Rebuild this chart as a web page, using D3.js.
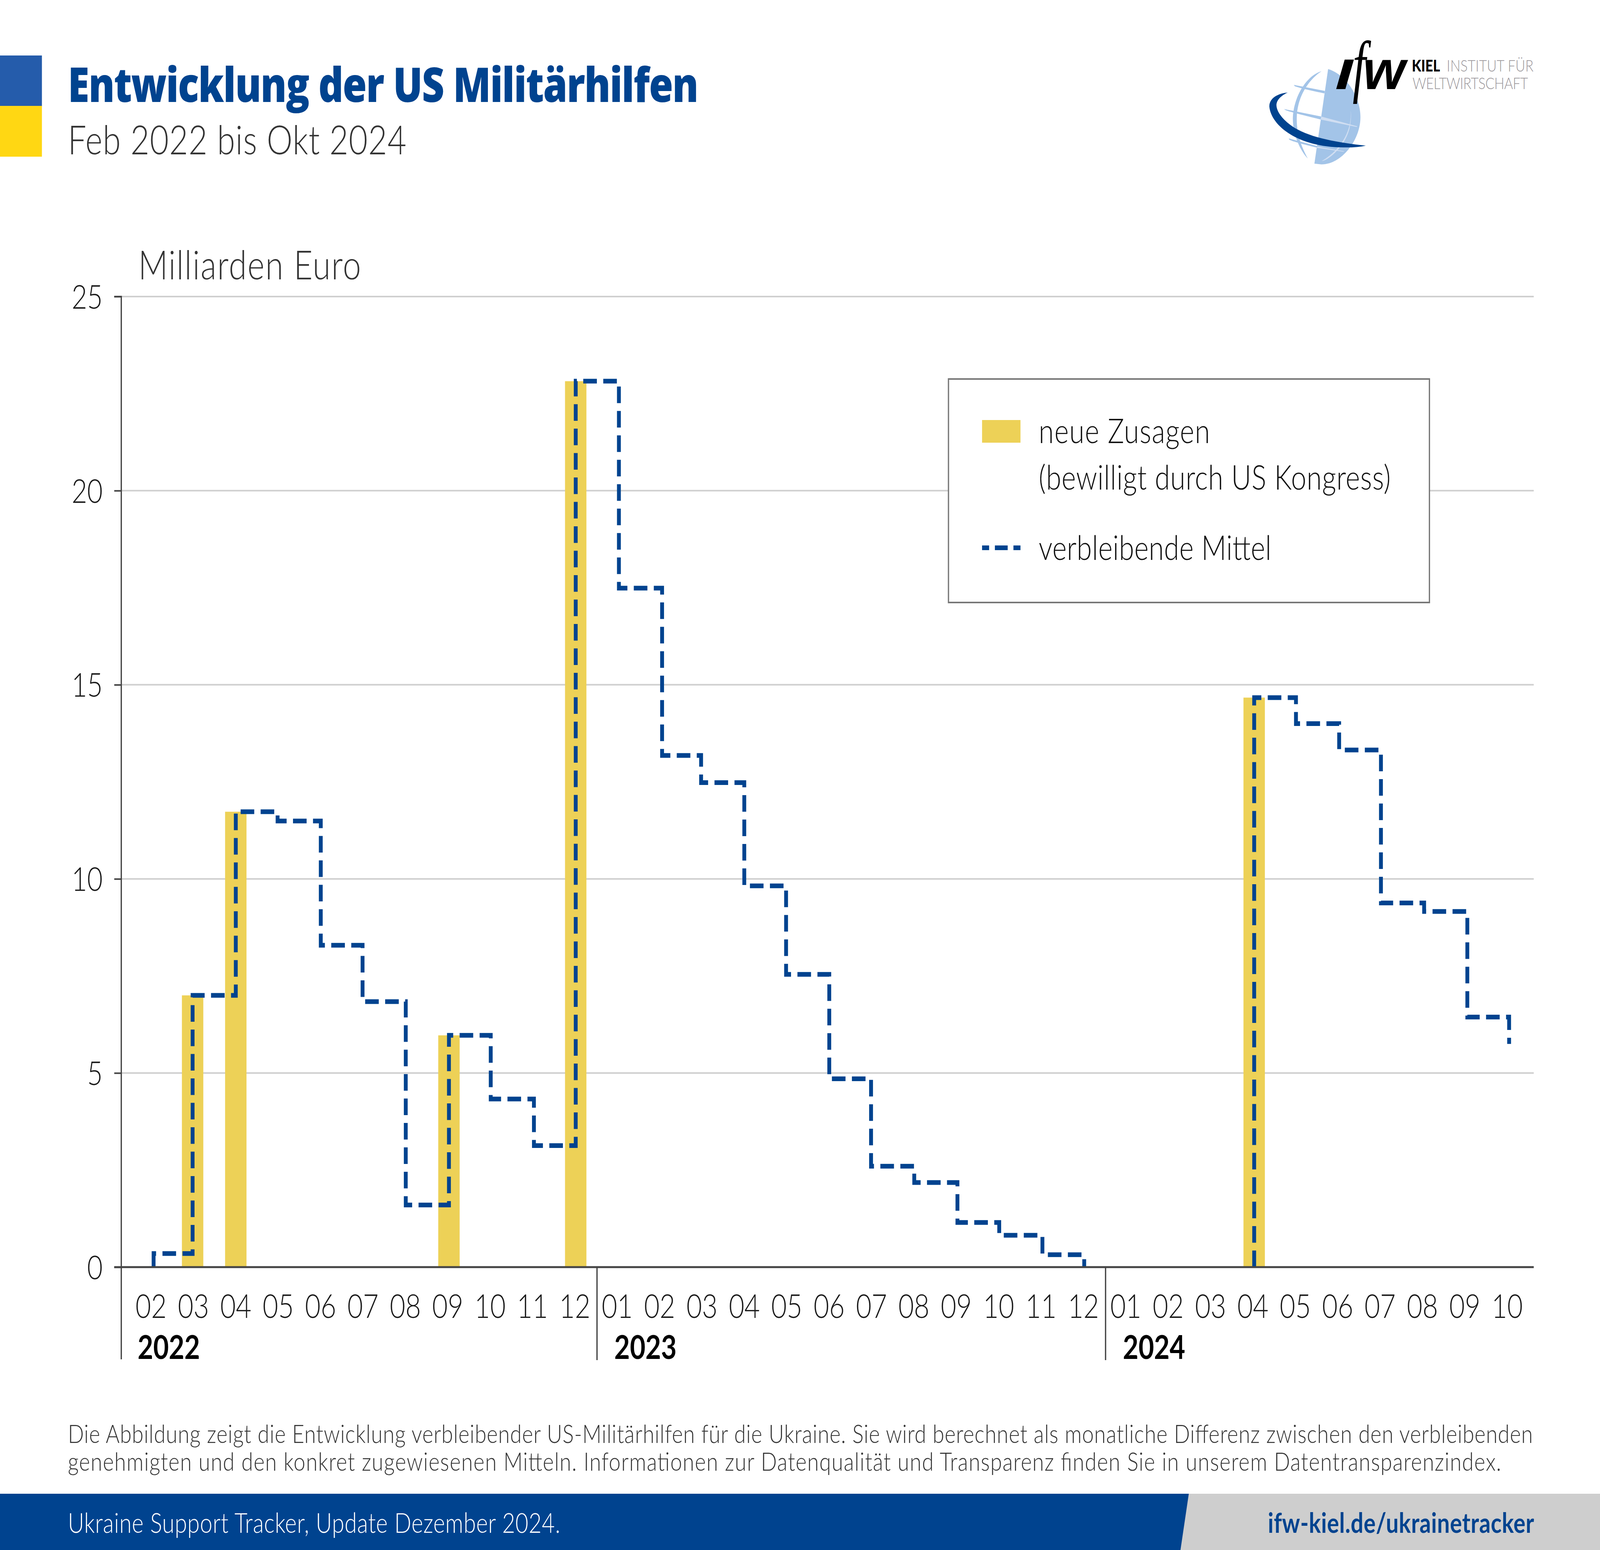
<!DOCTYPE html>
<html>
<head>
<meta charset="utf-8">
<script src="https://cdn.jsdelivr.net/npm/d3@7"></script>
<style>
    html, body { margin: 0; padding: 0; width: 100%; height: 100%; background: #fff; overflow: hidden; }
    svg { display: block; width: 100%; height: 100%; }
    text { font-family: Lato, "Open Sans", sans-serif; font-weight: 300; }
    .axis-label { font-size: 84px; fill: #1a1a1a; }
</style>
</head>
<body>
<svg viewBox="0 0 5000 3967" preserveAspectRatio="none"></svg>
<script>
const months = [
    "2022-02", "2022-03", "2022-04", "2022-05", "2022-06", "2022-07", "2022-08", "2022-09", "2022-10", "2022-11", "2022-12",
    "2023-01", "2023-02", "2023-03", "2023-04", "2023-05", "2023-06", "2023-07", "2023-08", "2023-09", "2023-10", "2023-11", "2023-12",
    "2024-01", "2024-02", "2024-03", "2024-04", "2024-05", "2024-06", "2024-07", "2024-08", "2024-09", "2024-10",
]
const commitments = [
    0, 7.0, 11.73, 0, 0, 0, 0, 5.97, 0, 0, 22.82,
    0, 0, 0, 0, 0, 0, 0, 0, 0, 0, 0, 0,
    0, 0, 0, 14.67, 0, 0, 0, 0, 0, 0,
]
// null = no line drawn, the remaining funds sit on the baseline
const remaining = [
    0.35, 7.0, 11.73, 11.49, 8.29, 6.84, 1.6, 5.97, 4.33, 3.13, 22.82,
    17.49, 13.18, 12.48, 9.82, 7.54, 4.85, 2.6, 2.18, 1.15, 0.82, 0.32, 0,
    null, null, null, 14.67, 14.0, 13.32, 9.38, 9.16, 6.44, 5.75,
]
const years = [
    { label: "2022", first: "2022-02" },
    { label: "2023", first: "2023-01" },
    { label: "2024", first: "2024-01" },
]
const y_ticks = [0, 5, 10, 15, 20, 25]
const note_lines = [
    "Die Abbildung zeigt die Entwicklung verbleibender US-Militärhilfen für die Ukraine. Sie wird berechnet als monatliche Differenz zwischen den verbleibenden",
    "genehmigten und den konkret zugewiesenen Mitteln. Informationen zur Datenqualität und Transparenz finden Sie in unserem Datentransparenzindex.",
]
const note_widths = [4578, 4479]

const blue = "#00438f"
const gold = "#edd157"
const dash = "42.5,20"

const svg = d3.select("svg")
const to_date = m => new Date(m + "-01T00:00:00Z")

const x = d3.scaleBand().domain(months).range([405.8, 4776.3]).paddingInner(0.495).paddingOuter(0.2475)
// bars and line are on a real time axis, so short months come out narrower than the labels
const x_time = d3.scaleUtc()
    .domain([to_date(months[0]), to_date(months[months.length - 1])])
    .range([480, 4716])
const y = d3.scaleLinear().domain([0, 25]).range([3243, 759])

const left = 379
const right = 4793

// flag
svg.append("rect").attr("x", 0).attr("y", 142).attr("width", 131).attr("height", 130).attr("fill", "#255cab")
svg.append("rect").attr("x", 0).attr("y", 271).attr("width", 131).attr("height", 130).attr("fill", "#ffd713")

// title
svg.append("text").attr("x", 212).attr("y", 261)
    .attr("textLength", 1971)
    .style("font-family", "'Open Sans'").style("font-size", "122px").style("font-weight", 800).attr("fill", blue)
    .text("Entwicklung der US Militärhilfen")
svg.append("text").attr("x", 212).attr("y", 395)
    .attr("textLength", 1058)
    .style("font-size", "102px").attr("fill", "#333")
    .text("Feb 2022 bis Okt 2024")
svg.append("text").attr("x", 432).attr("y", 715)
    .attr("textLength", 696)
    .style("font-size", "102px").attr("fill", "#333")
    .text("Milliarden Euro")

draw_logo()

// grid
svg.append("g").selectAll("line")
    .data(y_ticks.filter(d => d > 0))
    .enter()
    .append("line")
    .attr("x1", left)
    .attr("x2", right)
    .attr("y1", d => y(d))
    .attr("y2", d => y(d))
    .attr("stroke", "#cfcfcf")
    .attr("stroke-width", 4)

// bars
svg.append("g").selectAll("rect")
    .data(months.map((m, i) => ({ date: to_date(m), value: commitments[i] })).filter(d => d.value > 0))
    .enter()
    .append("rect")
    .attr("x", d => x_time(d.date) - x.bandwidth() / 2)
    .attr("width", x.bandwidth())
    .attr("y", d => y(d.value))
    .attr("height", d => y(0) - y(d.value))
    .attr("fill", gold)

// remaining funds, starts from the baseline on each run
const points = months.map((m, i) => ({ date: to_date(m), value: remaining[i] }))
const run_a = points.slice(0, 23)
const run_b = points.slice(26)
const line = d3.line().x(d => x_time(d.date)).y(d => y(d.value)).curve(d3.curveStepAfter)

svg.append("g").selectAll("path")
    .data([run_a, run_b])
    .enter()
    .append("path")
    .attr("d", d => line([{ date: d[0].date, value: 0 }, ...d]))
    .attr("fill", "none")
    .attr("stroke", blue)
    .attr("stroke-width", 12)
    .attr("stroke-dasharray", dash)

// y axis
const y_axis = svg.append("g")
    .attr("transform", `translate(${left},0)`)
    .call(d3.axisLeft(y).tickValues(y_ticks).tickSize(22).tickPadding(36))
y_axis.selectAll("text").attr("class", "axis-label").attr("fill", null)
    .attr("dy", "0.36em")
y_axis.selectAll("line").attr("stroke", "#444").attr("stroke-width", 4)
y_axis.select(".domain").attr("stroke", "#444").attr("stroke-width", 4)
    .attr("d", `M-22,${y(25)}H0V3479`)

// x axis
const x_axis = svg.append("g")
    .attr("transform", `translate(0,${y(0)})`)
    .call(d3.axisBottom(x).tickFormat(d => d.slice(5)).tickSize(0).tickPadding(70))
x_axis.selectAll("text").attr("class", "axis-label").attr("fill", null)
x_axis.select(".domain").attr("stroke", "#444").attr("stroke-width", 5)
    .attr("d", `M${left - 22},0H${right}`)

// year separators
const year_start = d => x(d.first) - x.step() * x.paddingInner() / 2 + 3
svg.append("g").selectAll("line")
    .data(years.slice(1))
    .enter()
    .append("line")
    .attr("x1", year_start)
    .attr("x2", year_start)
    .attr("y1", y(0))
    .attr("y2", 3481)
    .attr("stroke", "#444")
    .attr("stroke-width", 4)
svg.append("g").selectAll("text")
    .data(years)
    .enter()
    .append("text")
    .attr("x", (d, i) => i === 0 ? 430 : year_start(d) + 54)
    .attr("y", 3478)
    .style("font-size", "84px")
    .style("font-weight", 700)
    .attr("fill", "#000")
    .text(d => d.label)

draw_legend()

// note
svg.append("g").selectAll("text")
    .data(note_lines)
    .enter()
    .append("text")
    .attr("x", 212)
    .attr("y", (d, i) => 3693 + i * 71)
    .attr("textLength", (d, i) => note_widths[i])
    .style("font-size", "66px")
    .attr("fill", "#333")
    .text(d => d)

// footer band
svg.append("rect").attr("x", 0).attr("y", 3823).attr("width", 5000).attr("height", 144).attr("fill", "#cecece")
svg.append("path").attr("d", "M0,3823H3715L3689,3967H0Z").attr("fill", blue)
svg.append("text").attr("x", 212).attr("y", 3923)
    .attr("textLength", 1539)
    .style("font-size", "70px").attr("fill", "#fff")
    .text("Ukraine Support Tracker, Update Dezember 2024.")
svg.append("text").attr("x", 3962).attr("y", 3923)
    .attr("textLength", 832)
    .style("font-size", "70px").style("font-weight", 700).attr("fill", blue)
    .text("ifw-kiel.de/ukrainetracker")

function draw_legend() {
    const g = svg.append("g")
    g.append("rect")
        .attr("x", 2964).attr("y", 970).attr("width", 1503).attr("height", 572)
        .attr("fill", "#fff").attr("stroke", "#777").attr("stroke-width", 4)
    g.append("rect")
        .attr("x", 3069).attr("y", 1075).attr("width", 120).attr("height", 58)
        .attr("fill", gold)
    g.append("line")
        .attr("x1", 3069).attr("x2", 3189).attr("y1", 1402).attr("y2", 1402)
        .attr("stroke", blue).attr("stroke-width", 12).attr("stroke-dasharray", "22,18,40,18,22")
    const labels = [
        ["neue Zusagen", 1134, 535],
        ["(bewilligt durch US Kongress)", 1253, 1100],
        ["verbleibende Mittel", 1433, 727],
    ]
    g.selectAll("text")
        .data(labels)
        .enter()
        .append("text")
        .attr("x", 3246)
        .attr("y", d => d[1])
        .attr("textLength", d => d[2])
        .style("font-size", "86px")
        .attr("fill", "#111")
        .text(d => d[0])
}

function draw_logo() {
    // shapes traced in crop coordinates, hence the uneven scale
    const g = svg.append("g").attr("transform", "translate(3800,60) scale(0.765,0.3333)")
    const light = "#a3c4e8"
    const pale = "#d0def2"
    const shapes = [
        ["M458,350C530,390 590,560 590,720C590,900 510,1085 430,1082L402,1076Z", light],
        ["M431,367C370,400 318,560 314,720C312,850 345,980 375,1037C350,950 328,850 330,720C332,560 380,430 431,367Z", light],
        ["M318,472L445,518L443,537C400,520 340,495 322,482Z", light],
        ["M278,657L430,715L428,738C380,715 300,680 284,665Z", light],
        ["M430,715L577,790L575,795L428,738Z", pale],
        ["M297,883L420,945L415,955C370,935 310,905 300,893Z", light],
        ["M415,945L525,982L520,985L410,955Z", pale],
        ["M550,672C556,800 520,960 433,1055C440,1065 520,980 545,810C552,750 553,700 550,672Z", pale],
        ["M293,530C240,540 216,590 218,640C225,780 330,950 520,952C560,953 590,948 612,938C500,915 390,880 320,800C270,740 245,670 247,620C250,580 270,550 293,530Z", blue],
    ]
    g.selectAll("path")
        .data(shapes)
        .enter()
        .append("path")
        .attr("d", d => d[0])
        .attr("fill", d => d[1])

    const word = svg.append("g").attr("fill", "#000")
    word.append("text").attr("transform", "translate(4172,228) scale(1.9,1.04)")
        .style("font-family", "'Liberation Sans'").style("font-style", "italic").style("font-weight", 700).style("font-size", "105px")
        .text("I")
    word.append("text").attr("transform", "translate(4227,228) scale(1.4,1.7)")
        .style("font-family", "'Liberation Serif'").style("font-style", "italic").style("font-weight", 400).style("font-size", "105px")
        .text("f")
    word.append("text").attr("transform", "translate(4259,228) scale(1.62,1.35)")
        .style("font-family", "'Liberation Sans'").style("font-style", "italic").style("font-weight", 700).style("font-size", "105px")
        .text("w")

    svg.append("text").attr("x", 4412).attr("y", 183)
        .attr("textLength", 88)
        .style("font-size", "42px").style("font-weight", 900).attr("fill", "#000")
        .text("KIEL")
    svg.append("text").attr("x", 4521).attr("y", 183)
        .attr("textLength", 271)
        .style("font-size", "42px").attr("fill", "#9b979b")
        .text("INSTITUT FÜR")
    svg.append("text").attr("x", 4414).attr("y", 228)
        .attr("textLength", 361)
        .style("font-size", "42px").attr("fill", "#9b979b")
        .text("WELTWIRTSCHAFT")
}
</script>
</body>
</html>
